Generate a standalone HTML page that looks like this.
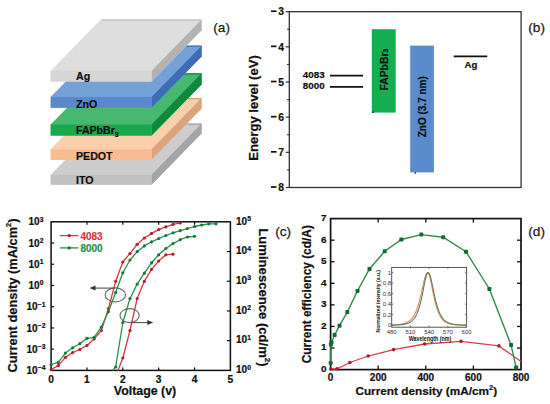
<!DOCTYPE html>
<html><head><meta charset="utf-8"><style>
html,body{margin:0;padding:0;background:#fff;}
svg{display:block;}
</style></head><body>
<svg width="550" height="404" viewBox="0 0 550 404">
<rect width="550" height="404" fill="#fff"/>
<polygon points="50.7,184.8 50.7,174.8 100.7,123.60000000000001 201.6,123.60000000000001 201.6,133.60000000000002 151.6,184.8" fill="#cdcdcd"/>
<polygon points="151.6,174.8 201.6,123.60000000000001 201.6,133.60000000000002 151.6,184.8" fill="#a5a5a5"/>
<rect x="50.7" y="174.8" width="100.89999999999999" height="10.0" fill="#c1c1c1"/>
<line x1="101.5" y1="124.10000000000001" x2="201.29999999999998" y2="124.10000000000001" stroke="#a5a5a5" stroke-width="1.2"/>
<text x="76" y="184.0" font-family="Liberation Sans" font-size="10.6" font-weight="bold" fill="#111" stroke="#111" stroke-width="0.22">ITO</text>
<polygon points="50.7,159.8 50.7,149.3 100.7,98.10000000000001 201.6,98.10000000000001 201.6,108.60000000000001 151.6,159.8" fill="#fbcfab"/>
<polygon points="151.6,149.3 201.6,98.10000000000001 201.6,108.60000000000001 151.6,159.8" fill="#d9a57c"/>
<rect x="50.7" y="149.3" width="100.89999999999999" height="10.5" fill="#f7bd90"/>
<line x1="101.5" y1="98.60000000000001" x2="201.29999999999998" y2="98.60000000000001" stroke="#d9a57c" stroke-width="1.2"/>
<text x="76" y="159.9" font-family="Liberation Sans" font-size="10.6" font-weight="bold" fill="#111" stroke="#111" stroke-width="0.22">PEDOT</text>
<polygon points="50.7,135.6 50.7,124.5 100.7,73.3 201.6,73.3 201.6,84.39999999999999 151.6,135.6" fill="#48b770"/>
<polygon points="151.6,124.5 201.6,73.3 201.6,84.39999999999999 151.6,135.6" fill="#10893a"/>
<rect x="50.7" y="124.5" width="100.89999999999999" height="11.099999999999994" fill="#19a94d"/>
<line x1="101.5" y1="73.8" x2="201.29999999999998" y2="73.8" stroke="#10893a" stroke-width="1.2"/>
<text x="76" y="134.3" font-family="Liberation Sans" font-size="10.6" font-weight="bold" fill="#111" stroke="#111" stroke-width="0.22">FAPbBr<tspan font-size="6.8" dy="2.3">3</tspan></text>
<polygon points="50.7,107.8 50.7,96.9 100.7,45.7 201.6,45.7 201.6,56.599999999999994 151.6,107.8" fill="#74a1d8"/>
<polygon points="151.6,96.9 201.6,45.7 201.6,56.599999999999994 151.6,107.8" fill="#3f6db5"/>
<rect x="50.7" y="96.9" width="100.89999999999999" height="10.899999999999991" fill="#5a88cd"/>
<line x1="101.5" y1="46.2" x2="201.29999999999998" y2="46.2" stroke="#3f6db5" stroke-width="1.2"/>
<text x="76" y="107.7" font-family="Liberation Sans" font-size="10.6" font-weight="bold" fill="#111" stroke="#111" stroke-width="0.22">ZnO</text>
<polygon points="50.7,81.5 50.7,70.7 100.7,19.5 201.6,19.5 201.6,30.299999999999997 151.6,81.5" fill="#dedede"/>
<polygon points="151.6,70.7 201.6,19.5 201.6,30.299999999999997 151.6,81.5" fill="#b3b3b3"/>
<rect x="50.7" y="70.7" width="100.89999999999999" height="10.799999999999997" fill="#d6d6d6"/>
<line x1="101.5" y1="20.0" x2="201.29999999999998" y2="20.0" stroke="#b3b3b3" stroke-width="1.2"/>
<text x="76" y="79.9" font-family="Liberation Sans" font-size="10.6" font-weight="bold" fill="#111" stroke="#111" stroke-width="0.22">Ag</text>
<text x="213.3" y="31.6" font-family="Liberation Sans" font-size="13.6" fill="#1a1a1a" stroke="#1a1a1a" stroke-width="0.25">(a)</text>
<rect x="289.3" y="11.7" width="231.8" height="175.8" fill="none" stroke="#333" stroke-width="1.3"/>
<line x1="285.7" y1="11.7" x2="289.3" y2="11.7" stroke="#333" stroke-width="1.2"/>
<text x="284" y="15.399999999999999" font-family="Liberation Sans" font-size="10.3" font-weight="bold" text-anchor="end" fill="#111" stroke="#111" stroke-width="0.22">3</text>
<rect x="271" y="10.35" width="5.5" height="1.7" fill="#111"/>
<line x1="285.7" y1="46.86" x2="289.3" y2="46.86" stroke="#333" stroke-width="1.2"/>
<text x="284" y="50.56" font-family="Liberation Sans" font-size="10.3" font-weight="bold" text-anchor="end" fill="#111" stroke="#111" stroke-width="0.22">4</text>
<rect x="271" y="45.51" width="5.5" height="1.7" fill="#111"/>
<line x1="285.7" y1="82.02000000000001" x2="289.3" y2="82.02000000000001" stroke="#333" stroke-width="1.2"/>
<text x="284" y="85.72000000000001" font-family="Liberation Sans" font-size="10.3" font-weight="bold" text-anchor="end" fill="#111" stroke="#111" stroke-width="0.22">5</text>
<rect x="271" y="80.67000000000002" width="5.5" height="1.7" fill="#111"/>
<line x1="285.7" y1="117.18000000000002" x2="289.3" y2="117.18000000000002" stroke="#333" stroke-width="1.2"/>
<text x="284" y="120.88000000000002" font-family="Liberation Sans" font-size="10.3" font-weight="bold" text-anchor="end" fill="#111" stroke="#111" stroke-width="0.22">6</text>
<rect x="271" y="115.83000000000003" width="5.5" height="1.7" fill="#111"/>
<line x1="285.7" y1="152.34" x2="289.3" y2="152.34" stroke="#333" stroke-width="1.2"/>
<text x="284" y="156.04" font-family="Liberation Sans" font-size="10.3" font-weight="bold" text-anchor="end" fill="#111" stroke="#111" stroke-width="0.22">7</text>
<rect x="271" y="150.99" width="5.5" height="1.7" fill="#111"/>
<line x1="285.7" y1="187.5" x2="289.3" y2="187.5" stroke="#333" stroke-width="1.2"/>
<text x="284" y="191.2" font-family="Liberation Sans" font-size="10.3" font-weight="bold" text-anchor="end" fill="#111" stroke="#111" stroke-width="0.22">8</text>
<rect x="271" y="186.15" width="5.5" height="1.7" fill="#111"/>
<line x1="287.1" y1="29.28" x2="289.3" y2="29.28" stroke="#333" stroke-width="1.1"/>
<line x1="287.1" y1="64.44000000000001" x2="289.3" y2="64.44000000000001" stroke="#333" stroke-width="1.1"/>
<line x1="287.1" y1="99.60000000000001" x2="289.3" y2="99.60000000000001" stroke="#333" stroke-width="1.1"/>
<line x1="287.1" y1="134.76000000000002" x2="289.3" y2="134.76000000000002" stroke="#333" stroke-width="1.1"/>
<line x1="287.1" y1="169.92" x2="289.3" y2="169.92" stroke="#333" stroke-width="1.1"/>
<text transform="translate(257.5 107.9) rotate(-90)" font-family="Liberation Sans" font-size="13.1" font-weight="bold" text-anchor="middle" fill="#111" stroke="#111" stroke-width="0.22">Energy level (eV)</text>
<rect x="371.8" y="29.2" width="23.9" height="83.39999999999999" fill="#14ad51"/>
<rect x="372.2" y="111.4" width="1.5" height="1.6" fill="#234"/>
<rect x="410.2" y="45.6" width="23.7" height="126.80000000000001" fill="#5a8bcc"/>
<rect x="414.6" y="172.2" width="1.4" height="1.6" fill="#234"/>
<text transform="translate(387.6 90.6) rotate(-90)" font-family="Liberation Sans" font-size="10.4" font-weight="bold" fill="#111" stroke="#111" stroke-width="0.22">FAPbBr<tspan font-size="6.8" dy="0.8">3</tspan></text>
<text transform="translate(425.9 137.3) rotate(-90)" font-family="Liberation Sans" font-size="10.0" font-weight="bold" fill="#111" stroke="#111" stroke-width="0.22">ZnO (3.7 nm)</text>
<line x1="329.9" y1="75.6" x2="363.1" y2="75.6" stroke="#111" stroke-width="1.8"/>
<line x1="329.9" y1="86.9" x2="363.1" y2="86.9" stroke="#111" stroke-width="1.8"/>
<text x="324.6" y="77.6" font-family="Liberation Sans" font-size="9.8" font-weight="bold" text-anchor="end" fill="#111" stroke="#111" stroke-width="0.22">4083</text>
<text x="324.6" y="88.8" font-family="Liberation Sans" font-size="9.8" font-weight="bold" text-anchor="end" fill="#111" stroke="#111" stroke-width="0.22">8000</text>
<line x1="453.7" y1="56.4" x2="487.3" y2="56.4" stroke="#111" stroke-width="1.9"/>
<text x="464.5" y="68.1" font-family="Liberation Sans" font-size="9.6" font-weight="bold" fill="#111" stroke="#111" stroke-width="0.22">Ag</text>
<text x="528.3" y="31.6" font-family="Liberation Sans" font-size="13.6" fill="#1a1a1a" stroke="#1a1a1a" stroke-width="0.25">(b)</text>
<rect x="51.1" y="221.8" width="179.3" height="148.59999999999997" fill="none" stroke="#111" stroke-width="1.5"/>
<line x1="86.96000000000001" y1="370.4" x2="86.96000000000001" y2="367.4" stroke="#111" stroke-width="1.2"/>
<line x1="86.96000000000001" y1="221.8" x2="86.96000000000001" y2="224.8" stroke="#111" stroke-width="1.2"/>
<line x1="122.82" y1="370.4" x2="122.82" y2="367.4" stroke="#111" stroke-width="1.2"/>
<line x1="122.82" y1="221.8" x2="122.82" y2="224.8" stroke="#111" stroke-width="1.2"/>
<line x1="158.68" y1="370.4" x2="158.68" y2="367.4" stroke="#111" stroke-width="1.2"/>
<line x1="158.68" y1="221.8" x2="158.68" y2="224.8" stroke="#111" stroke-width="1.2"/>
<line x1="194.54" y1="370.4" x2="194.54" y2="367.4" stroke="#111" stroke-width="1.2"/>
<line x1="194.54" y1="221.8" x2="194.54" y2="224.8" stroke="#111" stroke-width="1.2"/>
<text x="51.1" y="383.0" font-family="Liberation Sans" font-size="10.2" font-weight="bold" text-anchor="middle" fill="#111" stroke="#111" stroke-width="0.22">0</text>
<text x="86.96000000000001" y="383.0" font-family="Liberation Sans" font-size="10.2" font-weight="bold" text-anchor="middle" fill="#111" stroke="#111" stroke-width="0.22">1</text>
<text x="122.82" y="383.0" font-family="Liberation Sans" font-size="10.2" font-weight="bold" text-anchor="middle" fill="#111" stroke="#111" stroke-width="0.22">2</text>
<text x="158.68" y="383.0" font-family="Liberation Sans" font-size="10.2" font-weight="bold" text-anchor="middle" fill="#111" stroke="#111" stroke-width="0.22">3</text>
<text x="194.54" y="383.0" font-family="Liberation Sans" font-size="10.2" font-weight="bold" text-anchor="middle" fill="#111" stroke="#111" stroke-width="0.22">4</text>
<text x="230.4" y="383.0" font-family="Liberation Sans" font-size="10.2" font-weight="bold" text-anchor="middle" fill="#111" stroke="#111" stroke-width="0.22">5</text>
<text x="36" y="374.0" font-family="Liberation Sans" font-size="10" font-weight="bold" text-anchor="middle" fill="#111" stroke="#111" stroke-width="0.22">10<tspan font-size="6.8" dy="-3.6">−4</tspan></text>
<line x1="51.1" y1="349.1714285714286" x2="54.1" y2="349.1714285714286" stroke="#111" stroke-width="1.2"/>
<text x="36" y="352.7714285714286" font-family="Liberation Sans" font-size="10" font-weight="bold" text-anchor="middle" fill="#111" stroke="#111" stroke-width="0.22">10<tspan font-size="6.8" dy="-3.6">−3</tspan></text>
<line x1="51.1" y1="327.9428571428571" x2="54.1" y2="327.9428571428571" stroke="#111" stroke-width="1.2"/>
<text x="36" y="331.54285714285714" font-family="Liberation Sans" font-size="10" font-weight="bold" text-anchor="middle" fill="#111" stroke="#111" stroke-width="0.22">10<tspan font-size="6.8" dy="-3.6">−2</tspan></text>
<line x1="51.1" y1="306.7142857142857" x2="54.1" y2="306.7142857142857" stroke="#111" stroke-width="1.2"/>
<text x="36" y="310.31428571428575" font-family="Liberation Sans" font-size="10" font-weight="bold" text-anchor="middle" fill="#111" stroke="#111" stroke-width="0.22">10<tspan font-size="6.8" dy="-3.6">−1</tspan></text>
<line x1="51.1" y1="285.48571428571427" x2="54.1" y2="285.48571428571427" stroke="#111" stroke-width="1.2"/>
<text x="36" y="289.0857142857143" font-family="Liberation Sans" font-size="10" font-weight="bold" text-anchor="middle" fill="#111" stroke="#111" stroke-width="0.22">10<tspan font-size="6.8" dy="-3.6">0</tspan></text>
<line x1="51.1" y1="264.25714285714287" x2="54.1" y2="264.25714285714287" stroke="#111" stroke-width="1.2"/>
<text x="36" y="267.8571428571429" font-family="Liberation Sans" font-size="10" font-weight="bold" text-anchor="middle" fill="#111" stroke="#111" stroke-width="0.22">10<tspan font-size="6.8" dy="-3.6">1</tspan></text>
<line x1="51.1" y1="243.02857142857144" x2="54.1" y2="243.02857142857144" stroke="#111" stroke-width="1.2"/>
<text x="36" y="246.62857142857143" font-family="Liberation Sans" font-size="10" font-weight="bold" text-anchor="middle" fill="#111" stroke="#111" stroke-width="0.22">10<tspan font-size="6.8" dy="-3.6">2</tspan></text>
<text x="36" y="225.4" font-family="Liberation Sans" font-size="10" font-weight="bold" text-anchor="middle" fill="#111" stroke="#111" stroke-width="0.22">10<tspan font-size="6.8" dy="-3.6">3</tspan></text>
<text x="236" y="373.09999999999997" font-family="Liberation Sans" font-size="10" font-weight="bold" fill="#111" stroke="#111" stroke-width="0.22">10<tspan font-size="6.8" dy="-3.6">0</tspan></text>
<line x1="230.4" y1="340.68" x2="226.9" y2="340.68" stroke="#111" stroke-width="1.2"/>
<text x="236" y="343.38" font-family="Liberation Sans" font-size="10" font-weight="bold" fill="#111" stroke="#111" stroke-width="0.22">10<tspan font-size="6.8" dy="-3.6">1</tspan></text>
<line x1="230.4" y1="310.96" x2="226.9" y2="310.96" stroke="#111" stroke-width="1.2"/>
<text x="236" y="313.65999999999997" font-family="Liberation Sans" font-size="10" font-weight="bold" fill="#111" stroke="#111" stroke-width="0.22">10<tspan font-size="6.8" dy="-3.6">2</tspan></text>
<line x1="230.4" y1="281.24" x2="226.9" y2="281.24" stroke="#111" stroke-width="1.2"/>
<text x="236" y="283.94" font-family="Liberation Sans" font-size="10" font-weight="bold" fill="#111" stroke="#111" stroke-width="0.22">10<tspan font-size="6.8" dy="-3.6">3</tspan></text>
<line x1="230.4" y1="251.52" x2="226.9" y2="251.52" stroke="#111" stroke-width="1.2"/>
<text x="236" y="254.22" font-family="Liberation Sans" font-size="10" font-weight="bold" fill="#111" stroke="#111" stroke-width="0.22">10<tspan font-size="6.8" dy="-3.6">4</tspan></text>
<text x="236" y="224.5" font-family="Liberation Sans" font-size="10" font-weight="bold" fill="#111" stroke="#111" stroke-width="0.22">10<tspan font-size="6.8" dy="-3.6">5</tspan></text>
<text x="145" y="395.1" font-family="Liberation Sans" font-size="12.4" font-weight="bold" text-anchor="middle" fill="#111" stroke="#111" stroke-width="0.22">Voltage (v)</text>
<text transform="translate(17.3 295.5) rotate(-90)" font-family="Liberation Sans" font-size="12.85" font-weight="bold" text-anchor="middle" fill="#111" stroke="#111" stroke-width="0.22">Current density (mA/cm<tspan font-size="7.4" dy="-6">2</tspan><tspan dy="6">)</tspan></text>
<text transform="translate(259.4 297.5) rotate(90)" font-family="Liberation Sans" font-size="13.1" font-weight="bold" text-anchor="middle" fill="#111" stroke="#111" stroke-width="0.22">Luminescence (cd/m<tspan font-size="8" dy="-5.5">2</tspan><tspan dy="5.5">)</tspan></text>
<polyline points="51.10,369.50 58.27,365.60 65.44,357.40 72.62,352.60 79.79,349.50 86.96,345.40 94.13,338.90 101.30,330.50 108.48,308.50 115.65,281.30 122.82,262.00 129.99,253.50 137.16,244.30 144.34,238.00 151.51,233.40 158.68,229.60 165.85,226.90 173.02,224.40 180.20,222.90" fill="none" stroke="#d83a40" stroke-width="1.3" stroke-linejoin="round"/>
<circle cx="51.10" cy="369.50" r="1.6" fill="#b41f2b"/>
<circle cx="58.27" cy="365.60" r="1.6" fill="#b41f2b"/>
<circle cx="65.44" cy="357.40" r="1.6" fill="#b41f2b"/>
<circle cx="72.62" cy="352.60" r="1.6" fill="#b41f2b"/>
<circle cx="79.79" cy="349.50" r="1.6" fill="#b41f2b"/>
<circle cx="86.96" cy="345.40" r="1.6" fill="#b41f2b"/>
<circle cx="94.13" cy="338.90" r="1.6" fill="#b41f2b"/>
<circle cx="101.30" cy="330.50" r="1.6" fill="#b41f2b"/>
<circle cx="108.48" cy="308.50" r="1.6" fill="#b41f2b"/>
<circle cx="115.65" cy="281.30" r="1.6" fill="#b41f2b"/>
<circle cx="122.82" cy="262.00" r="1.6" fill="#b41f2b"/>
<circle cx="129.99" cy="253.50" r="1.6" fill="#b41f2b"/>
<circle cx="137.16" cy="244.30" r="1.6" fill="#b41f2b"/>
<circle cx="144.34" cy="238.00" r="1.6" fill="#b41f2b"/>
<circle cx="151.51" cy="233.40" r="1.6" fill="#b41f2b"/>
<circle cx="158.68" cy="229.60" r="1.6" fill="#b41f2b"/>
<circle cx="165.85" cy="226.90" r="1.6" fill="#b41f2b"/>
<circle cx="173.02" cy="224.40" r="1.6" fill="#b41f2b"/>
<circle cx="180.20" cy="222.90" r="1.6" fill="#b41f2b"/>
<polyline points="51.10,364.50 58.27,362.40 65.44,353.10 72.62,347.80 79.79,343.70 86.96,338.30 94.13,337.40 101.30,327.00 108.48,311.60 115.65,292.50 122.82,272.80 129.99,260.00 137.16,251.60 144.34,245.90 151.51,241.80 158.68,238.60 165.85,235.50 173.02,232.80 180.20,230.70 187.37,228.60 194.54,226.50 201.71,225.00 208.88,223.80 216.06,223.80" fill="none" stroke="#2a9149" stroke-width="1.3" stroke-linejoin="round"/>
<circle cx="51.10" cy="364.50" r="1.6" fill="#137a3a"/>
<circle cx="58.27" cy="362.40" r="1.6" fill="#137a3a"/>
<circle cx="65.44" cy="353.10" r="1.6" fill="#137a3a"/>
<circle cx="72.62" cy="347.80" r="1.6" fill="#137a3a"/>
<circle cx="79.79" cy="343.70" r="1.6" fill="#137a3a"/>
<circle cx="86.96" cy="338.30" r="1.6" fill="#137a3a"/>
<circle cx="94.13" cy="337.40" r="1.6" fill="#137a3a"/>
<circle cx="101.30" cy="327.00" r="1.6" fill="#137a3a"/>
<circle cx="108.48" cy="311.60" r="1.6" fill="#137a3a"/>
<circle cx="115.65" cy="292.50" r="1.6" fill="#137a3a"/>
<circle cx="122.82" cy="272.80" r="1.6" fill="#137a3a"/>
<circle cx="129.99" cy="260.00" r="1.6" fill="#137a3a"/>
<circle cx="137.16" cy="251.60" r="1.6" fill="#137a3a"/>
<circle cx="144.34" cy="245.90" r="1.6" fill="#137a3a"/>
<circle cx="151.51" cy="241.80" r="1.6" fill="#137a3a"/>
<circle cx="158.68" cy="238.60" r="1.6" fill="#137a3a"/>
<circle cx="165.85" cy="235.50" r="1.6" fill="#137a3a"/>
<circle cx="173.02" cy="232.80" r="1.6" fill="#137a3a"/>
<circle cx="180.20" cy="230.70" r="1.6" fill="#137a3a"/>
<circle cx="187.37" cy="228.60" r="1.6" fill="#137a3a"/>
<circle cx="194.54" cy="226.50" r="1.6" fill="#137a3a"/>
<circle cx="201.71" cy="225.00" r="1.6" fill="#137a3a"/>
<circle cx="208.88" cy="223.80" r="1.6" fill="#137a3a"/>
<circle cx="216.06" cy="223.80" r="1.6" fill="#137a3a"/>
<polyline points="112.70,370.40 115.65,367.00 122.82,322.50 129.99,298.50 137.16,284.10 144.34,273.20 151.51,262.80 158.68,254.80 165.85,248.50 173.02,243.60 180.20,239.70 187.37,237.00 194.54,236.30" fill="none" stroke="#2a9149" stroke-width="1.3" stroke-linejoin="round"/>
<circle cx="115.65" cy="367.00" r="1.6" fill="#137a3a"/>
<circle cx="122.82" cy="322.50" r="1.6" fill="#137a3a"/>
<circle cx="129.99" cy="298.50" r="1.6" fill="#137a3a"/>
<circle cx="137.16" cy="284.10" r="1.6" fill="#137a3a"/>
<circle cx="144.34" cy="273.20" r="1.6" fill="#137a3a"/>
<circle cx="151.51" cy="262.80" r="1.6" fill="#137a3a"/>
<circle cx="158.68" cy="254.80" r="1.6" fill="#137a3a"/>
<circle cx="165.85" cy="248.50" r="1.6" fill="#137a3a"/>
<circle cx="173.02" cy="243.60" r="1.6" fill="#137a3a"/>
<circle cx="180.20" cy="239.70" r="1.6" fill="#137a3a"/>
<circle cx="187.37" cy="237.00" r="1.6" fill="#137a3a"/>
<circle cx="194.54" cy="236.30" r="1.6" fill="#137a3a"/>
<polyline points="117.90,370.40 122.82,358.00 129.99,330.50 137.16,298.50 144.34,281.30 151.51,269.40 158.68,261.00 165.85,254.80 173.02,254.20" fill="none" stroke="#d83a40" stroke-width="1.3" stroke-linejoin="round"/>
<circle cx="122.82" cy="358.00" r="1.6" fill="#b41f2b"/>
<circle cx="129.99" cy="330.50" r="1.6" fill="#b41f2b"/>
<circle cx="137.16" cy="298.50" r="1.6" fill="#b41f2b"/>
<circle cx="144.34" cy="281.30" r="1.6" fill="#b41f2b"/>
<circle cx="151.51" cy="269.40" r="1.6" fill="#b41f2b"/>
<circle cx="158.68" cy="261.00" r="1.6" fill="#b41f2b"/>
<circle cx="165.85" cy="254.80" r="1.6" fill="#b41f2b"/>
<circle cx="173.02" cy="254.20" r="1.6" fill="#b41f2b"/>
<line x1="59.9" y1="235.6" x2="78.4" y2="235.6" stroke="#d83a40" stroke-width="1.3"/><circle cx="69.2" cy="235.6" r="1.7" fill="#b41f2b"/>
<line x1="59.9" y1="247.9" x2="78.4" y2="247.9" stroke="#2a9149" stroke-width="1.3"/><circle cx="69.2" cy="247.9" r="1.7" fill="#137a3a"/>
<text x="80.4" y="239.6" font-family="Liberation Sans" font-size="10" font-weight="bold" fill="#d83a40" stroke="#d83a40" stroke-width="0.22">4083</text>
<text x="80.4" y="251.7" font-family="Liberation Sans" font-size="10" font-weight="bold" fill="#2a9149" stroke="#2a9149" stroke-width="0.22">8000</text>
<ellipse cx="115.3" cy="294.9" rx="10.2" ry="7.0" fill="none" stroke="#666" stroke-width="1.1"/>
<ellipse cx="129.6" cy="315.6" rx="9.6" ry="7.0" fill="none" stroke="#666" stroke-width="1.1"/>
<line x1="114.5" y1="288.1" x2="93" y2="288.1" stroke="#555" stroke-width="1.1"/><polygon points="89.6,288.1 95.5,285.6 95.5,290.6" fill="#333"/>
<line x1="130.4" y1="322.6" x2="149.5" y2="322.6" stroke="#555" stroke-width="1.1"/><polygon points="153.2,322.6 147.3,320.1 147.3,325.1" fill="#333"/>
<rect x="330.6" y="218.6" width="190.39999999999998" height="151.00000000000003" fill="none" stroke="#111" stroke-width="1.7"/>
<text x="326.4" y="372.0" font-family="Liberation Sans" font-size="9.9" font-weight="bold" text-anchor="end" fill="#111" stroke="#111" stroke-width="0.22">0</text>
<line x1="330.6" y1="348.02857142857147" x2="334.6" y2="348.02857142857147" stroke="#111" stroke-width="1.3"/>
<line x1="521.0" y1="348.02857142857147" x2="517.0" y2="348.02857142857147" stroke="#111" stroke-width="1.3"/>
<text x="326.4" y="350.42857142857144" font-family="Liberation Sans" font-size="9.9" font-weight="bold" text-anchor="end" fill="#111" stroke="#111" stroke-width="0.22">1</text>
<line x1="330.6" y1="326.45714285714286" x2="334.6" y2="326.45714285714286" stroke="#111" stroke-width="1.3"/>
<line x1="521.0" y1="326.45714285714286" x2="517.0" y2="326.45714285714286" stroke="#111" stroke-width="1.3"/>
<text x="326.4" y="328.85714285714283" font-family="Liberation Sans" font-size="9.9" font-weight="bold" text-anchor="end" fill="#111" stroke="#111" stroke-width="0.22">2</text>
<line x1="330.6" y1="304.8857142857143" x2="334.6" y2="304.8857142857143" stroke="#111" stroke-width="1.3"/>
<line x1="521.0" y1="304.8857142857143" x2="517.0" y2="304.8857142857143" stroke="#111" stroke-width="1.3"/>
<text x="326.4" y="307.2857142857143" font-family="Liberation Sans" font-size="9.9" font-weight="bold" text-anchor="end" fill="#111" stroke="#111" stroke-width="0.22">3</text>
<line x1="330.6" y1="283.3142857142857" x2="334.6" y2="283.3142857142857" stroke="#111" stroke-width="1.3"/>
<line x1="521.0" y1="283.3142857142857" x2="517.0" y2="283.3142857142857" stroke="#111" stroke-width="1.3"/>
<text x="326.4" y="285.71428571428567" font-family="Liberation Sans" font-size="9.9" font-weight="bold" text-anchor="end" fill="#111" stroke="#111" stroke-width="0.22">4</text>
<line x1="330.6" y1="261.74285714285713" x2="334.6" y2="261.74285714285713" stroke="#111" stroke-width="1.3"/>
<line x1="521.0" y1="261.74285714285713" x2="517.0" y2="261.74285714285713" stroke="#111" stroke-width="1.3"/>
<text x="326.4" y="264.1428571428571" font-family="Liberation Sans" font-size="9.9" font-weight="bold" text-anchor="end" fill="#111" stroke="#111" stroke-width="0.22">5</text>
<line x1="330.6" y1="240.17142857142855" x2="334.6" y2="240.17142857142855" stroke="#111" stroke-width="1.3"/>
<line x1="521.0" y1="240.17142857142855" x2="517.0" y2="240.17142857142855" stroke="#111" stroke-width="1.3"/>
<text x="326.4" y="242.57142857142856" font-family="Liberation Sans" font-size="9.9" font-weight="bold" text-anchor="end" fill="#111" stroke="#111" stroke-width="0.22">6</text>
<text x="326.4" y="221.0" font-family="Liberation Sans" font-size="9.9" font-weight="bold" text-anchor="end" fill="#111" stroke="#111" stroke-width="0.22">7</text>
<text x="330.6" y="381.0" font-family="Liberation Sans" font-size="10" font-weight="bold" text-anchor="middle" fill="#111" stroke="#111" stroke-width="0.22">0</text>
<line x1="378.20000000000005" y1="369.6" x2="378.20000000000005" y2="365.6" stroke="#111" stroke-width="1.3"/>
<line x1="378.20000000000005" y1="218.6" x2="378.20000000000005" y2="222.6" stroke="#111" stroke-width="1.3"/>
<text x="378.20000000000005" y="381.0" font-family="Liberation Sans" font-size="10" font-weight="bold" text-anchor="middle" fill="#111" stroke="#111" stroke-width="0.22">200</text>
<line x1="425.8" y1="369.6" x2="425.8" y2="365.6" stroke="#111" stroke-width="1.3"/>
<line x1="425.8" y1="218.6" x2="425.8" y2="222.6" stroke="#111" stroke-width="1.3"/>
<text x="425.8" y="381.0" font-family="Liberation Sans" font-size="10" font-weight="bold" text-anchor="middle" fill="#111" stroke="#111" stroke-width="0.22">400</text>
<line x1="473.4" y1="369.6" x2="473.4" y2="365.6" stroke="#111" stroke-width="1.3"/>
<line x1="473.4" y1="218.6" x2="473.4" y2="222.6" stroke="#111" stroke-width="1.3"/>
<text x="473.4" y="381.0" font-family="Liberation Sans" font-size="10" font-weight="bold" text-anchor="middle" fill="#111" stroke="#111" stroke-width="0.22">600</text>
<text x="521.0" y="381.0" font-family="Liberation Sans" font-size="10" font-weight="bold" text-anchor="middle" fill="#111" stroke="#111" stroke-width="0.22">800</text>
<text x="426.3" y="395.1" font-family="Liberation Sans" font-size="11.8" font-weight="bold" text-anchor="middle" fill="#111" stroke="#111" stroke-width="0.22">Current density (mA/cm<tspan font-size="7.5" dy="-5.3">2</tspan><tspan dy="5.3">)</tspan></text>
<text transform="translate(310.7 294.2) rotate(-90)" font-family="Liberation Sans" font-size="11.9" font-weight="bold" text-anchor="middle" fill="#111" stroke="#111" stroke-width="0.22">Current efficiency (cd/A)</text>
<text x="275.3" y="235.8" font-family="Liberation Sans" font-size="13.6" fill="#1a1a1a" stroke="#1a1a1a" stroke-width="0.25">(c)</text>
<text x="528.3" y="235.8" font-family="Liberation Sans" font-size="13.6" fill="#1a1a1a" stroke="#1a1a1a" stroke-width="0.25">(d)</text>
<polyline points="330.9,369.0 337.0,368.8 349.9,362.5 368.2,356.0 393.6,349.6 424.7,344.0 461.0,341.3 498.9,345.9 521,361.5" fill="none" stroke="#d44545" stroke-width="1.3"/>
<circle cx="330.9" cy="369.0" r="1.8" fill="#b01c28"/>
<circle cx="337.0" cy="368.8" r="1.8" fill="#b01c28"/>
<circle cx="349.9" cy="362.5" r="1.8" fill="#b01c28"/>
<circle cx="368.2" cy="356.0" r="1.8" fill="#b01c28"/>
<circle cx="393.6" cy="349.6" r="1.8" fill="#b01c28"/>
<circle cx="424.7" cy="344.0" r="1.8" fill="#b01c28"/>
<circle cx="461.0" cy="341.3" r="1.8" fill="#b01c28"/>
<circle cx="498.9" cy="345.9" r="1.8" fill="#b01c28"/>
<polyline points="330.7,362.9 330.9,344.5 331.5,342.3 334.6,335.0 339.5,325.7 347.3,312.1 357.5,290.9 369.5,269.0 384.7,251.3 401.4,239.5 421.3,234.6 443.2,237.2 466.0,251.7 489.4,289.0 511.1,345.1 516.1,367.4" fill="none" stroke="#348a50" stroke-width="1.4"/>
<rect x="328.7" y="360.9" width="4" height="4" rx="0.8" fill="#0e6b34"/>
<rect x="328.9" y="342.5" width="4" height="4" rx="0.8" fill="#0e6b34"/>
<rect x="329.5" y="340.3" width="4" height="4" rx="0.8" fill="#0e6b34"/>
<rect x="332.6" y="333.0" width="4" height="4" rx="0.8" fill="#0e6b34"/>
<rect x="337.5" y="323.7" width="4" height="4" rx="0.8" fill="#0e6b34"/>
<rect x="345.3" y="310.1" width="4" height="4" rx="0.8" fill="#0e6b34"/>
<rect x="355.5" y="288.9" width="4" height="4" rx="0.8" fill="#0e6b34"/>
<rect x="367.5" y="267.0" width="4" height="4" rx="0.8" fill="#0e6b34"/>
<rect x="382.7" y="249.3" width="4" height="4" rx="0.8" fill="#0e6b34"/>
<rect x="399.4" y="237.5" width="4" height="4" rx="0.8" fill="#0e6b34"/>
<rect x="419.3" y="232.6" width="4" height="4" rx="0.8" fill="#0e6b34"/>
<rect x="441.2" y="235.2" width="4" height="4" rx="0.8" fill="#0e6b34"/>
<rect x="464.0" y="249.7" width="4" height="4" rx="0.8" fill="#0e6b34"/>
<rect x="487.4" y="287.0" width="4" height="4" rx="0.8" fill="#0e6b34"/>
<rect x="509.1" y="343.1" width="4" height="4" rx="0.8" fill="#0e6b34"/>
<rect x="514.1" y="365.4" width="4" height="4" rx="0.8" fill="#0e6b34"/>
<rect x="391.7" y="267.4" width="74.90000000000003" height="59.80000000000001" fill="#fff" stroke="#444" stroke-width="0.9"/>
<line x1="410.425" y1="327.2" x2="410.425" y2="325.7" stroke="#444" stroke-width="0.7"/>
<line x1="410.425" y1="267.4" x2="410.425" y2="268.9" stroke="#444" stroke-width="0.7"/>
<line x1="429.15" y1="327.2" x2="429.15" y2="325.7" stroke="#444" stroke-width="0.7"/>
<line x1="429.15" y1="267.4" x2="429.15" y2="268.9" stroke="#444" stroke-width="0.7"/>
<line x1="447.875" y1="327.2" x2="447.875" y2="325.7" stroke="#444" stroke-width="0.7"/>
<line x1="447.875" y1="267.4" x2="447.875" y2="268.9" stroke="#444" stroke-width="0.7"/>
<text x="391.7" y="333.5" font-family="Liberation Sans" font-size="6" text-anchor="middle" fill="#333">480</text>
<text x="410.425" y="333.5" font-family="Liberation Sans" font-size="6" text-anchor="middle" fill="#333">510</text>
<text x="429.15" y="333.5" font-family="Liberation Sans" font-size="6" text-anchor="middle" fill="#333">540</text>
<text x="447.875" y="333.5" font-family="Liberation Sans" font-size="6" text-anchor="middle" fill="#333">570</text>
<text x="466.6" y="333.5" font-family="Liberation Sans" font-size="6" text-anchor="middle" fill="#333">600</text>
<line x1="391.7" y1="325.2" x2="393.2" y2="325.2" stroke="#444" stroke-width="0.7"/>
<line x1="466.6" y1="325.2" x2="465.1" y2="325.2" stroke="#444" stroke-width="0.7"/>
<text x="391.2" y="327.3" font-family="Liberation Sans" font-size="6" text-anchor="end" fill="#333">0</text>
<line x1="391.7" y1="314.68" x2="393.2" y2="314.68" stroke="#444" stroke-width="0.7"/>
<line x1="466.6" y1="314.68" x2="465.1" y2="314.68" stroke="#444" stroke-width="0.7"/>
<text x="391.2" y="316.78000000000003" font-family="Liberation Sans" font-size="6" text-anchor="end" fill="#333">0.2</text>
<line x1="391.7" y1="304.16" x2="393.2" y2="304.16" stroke="#444" stroke-width="0.7"/>
<line x1="466.6" y1="304.16" x2="465.1" y2="304.16" stroke="#444" stroke-width="0.7"/>
<text x="391.2" y="306.26000000000005" font-family="Liberation Sans" font-size="6" text-anchor="end" fill="#333">0.4</text>
<line x1="391.7" y1="293.64" x2="393.2" y2="293.64" stroke="#444" stroke-width="0.7"/>
<line x1="466.6" y1="293.64" x2="465.1" y2="293.64" stroke="#444" stroke-width="0.7"/>
<text x="391.2" y="295.74" font-family="Liberation Sans" font-size="6" text-anchor="end" fill="#333">0.6</text>
<line x1="391.7" y1="283.12" x2="393.2" y2="283.12" stroke="#444" stroke-width="0.7"/>
<line x1="466.6" y1="283.12" x2="465.1" y2="283.12" stroke="#444" stroke-width="0.7"/>
<text x="391.2" y="285.22" font-family="Liberation Sans" font-size="6" text-anchor="end" fill="#333">0.8</text>
<line x1="391.7" y1="272.6" x2="393.2" y2="272.6" stroke="#444" stroke-width="0.7"/>
<line x1="466.6" y1="272.6" x2="465.1" y2="272.6" stroke="#444" stroke-width="0.7"/>
<text x="391.2" y="274.70000000000005" font-family="Liberation Sans" font-size="6" text-anchor="end" fill="#333">1</text>
<text x="430" y="341.3" font-family="Liberation Sans" font-size="6.8" font-weight="bold" text-anchor="middle" fill="#111" textLength="42.6" lengthAdjust="spacingAndGlyphs">Wavelength (nm)</text>
<text transform="translate(380.3 301.2) rotate(-90)" font-family="Liberation Sans" font-size="5.2" font-weight="bold" text-anchor="middle" fill="#111" textLength="62.5" lengthAdjust="spacingAndGlyphs">Normalized intensity (a.u.)</text>
<polyline points="391.70,325.01 392.01,325.00 392.32,324.99 392.64,324.97 392.95,324.96 393.26,324.95 393.57,324.93 393.88,324.92 394.20,324.90 394.51,324.88 394.82,324.87 395.13,324.85 395.44,324.83 395.76,324.81 396.07,324.78 396.38,324.76 396.69,324.74 397.01,324.71 397.32,324.68 397.63,324.65 397.94,324.62 398.25,324.59 398.57,324.55 398.88,324.52 399.19,324.48 399.50,324.44 399.81,324.39 400.13,324.35 400.44,324.30 400.75,324.25 401.06,324.20 401.37,324.14 401.69,324.08 402.00,324.01 402.31,323.95 402.62,323.88 402.94,323.80 403.25,323.72 403.56,323.64 403.87,323.55 404.18,323.46 404.50,323.36 404.81,323.25 405.12,323.14 405.43,323.03 405.74,322.90 406.06,322.77 406.37,322.63 406.68,322.49 406.99,322.33 407.30,322.17 407.62,322.00 407.93,321.82 408.24,321.63 408.55,321.43 408.86,321.21 409.18,320.99 409.49,320.75 409.80,320.50 410.11,320.23 410.43,319.95 410.74,319.66 411.05,319.35 411.36,319.02 411.67,318.67 411.99,318.30 412.30,317.91 412.61,317.51 412.92,317.08 413.23,316.62 413.55,316.14 413.86,315.64 414.17,315.11 414.48,314.55 414.79,313.96 415.11,313.34 415.42,312.69 415.73,312.01 416.04,311.29 416.35,310.54 416.67,309.75 416.98,308.92 417.29,308.05 417.60,307.14 417.92,306.19 418.23,305.20 418.54,304.17 418.85,303.10 419.16,301.98 419.48,300.82 419.79,299.63 420.10,298.39 420.41,297.11 420.72,295.81 421.04,294.47 421.35,293.10 421.66,291.71 421.97,290.30 422.28,288.88 422.60,287.46 422.91,286.04 423.22,284.64 423.53,283.26 423.84,281.91 424.16,280.61 424.47,279.37 424.78,278.19 425.09,277.10 425.40,276.10 425.72,275.21 426.03,274.44 426.34,273.79 426.65,273.27 426.97,272.90 427.28,272.68 427.59,272.60 427.90,272.69 428.21,272.97 428.53,273.44 428.84,274.07 429.15,274.87 429.46,275.82 429.77,276.91 430.09,278.11 430.40,279.42 430.71,280.82 431.02,282.28 431.33,283.80 431.65,285.35 431.96,286.93 432.27,288.52 432.58,290.10 432.89,291.68 433.21,293.23 433.52,294.75 433.83,296.24 434.14,297.68 434.46,299.08 434.77,300.44 435.08,301.74 435.39,302.99 435.70,304.19 436.02,305.34 436.33,306.44 436.64,307.48 436.95,308.48 437.26,309.42 437.58,310.32 437.89,311.17 438.20,311.98 438.51,312.74 438.82,313.46 439.14,314.14 439.45,314.79 439.76,315.40 440.07,315.97 440.38,316.51 440.70,317.02 441.01,317.51 441.32,317.96 441.63,318.39 441.95,318.79 442.26,319.17 442.57,319.53 442.88,319.87 443.19,320.18 443.51,320.48 443.82,320.76 444.13,321.03 444.44,321.27 444.75,321.51 445.07,321.73 445.38,321.93 445.69,322.13 446.00,322.31 446.31,322.49 446.63,322.65 446.94,322.80 447.25,322.94 447.56,323.08 447.88,323.20 448.19,323.32 448.50,323.44 448.81,323.54 449.12,323.64 449.44,323.73 449.75,323.82 450.06,323.90 450.37,323.98 450.68,324.05 451.00,324.12 451.31,324.19 451.62,324.25 451.93,324.30 452.24,324.36 452.56,324.41 452.87,324.46 453.18,324.50 453.49,324.54 453.80,324.58 454.12,324.62 454.43,324.65 454.74,324.69 455.05,324.72 455.37,324.75 455.68,324.77 455.99,324.80 456.30,324.82 456.61,324.84 456.93,324.87 457.24,324.89 457.55,324.90 457.86,324.92 458.17,324.94 458.49,324.95 458.80,324.97 459.11,324.98 459.42,325.00 459.73,325.01 460.05,325.02 460.36,325.03 460.67,325.04 460.98,325.05 461.29,325.06 461.61,325.07 461.92,325.08 462.23,325.08 462.54,325.09 462.86,325.10 463.17,325.10 463.48,325.11 463.79,325.11 464.10,325.12 464.42,325.12 464.73,325.13 465.04,325.13 465.35,325.14 465.66,325.14 465.98,325.14 466.29,325.15 466.60,325.15" fill="none" stroke="#e3826a" stroke-width="1.1"/>
<polyline points="391.70,325.12 392.01,325.12 392.32,325.11 392.64,325.11 392.95,325.10 393.26,325.10 393.57,325.09 393.88,325.08 394.20,325.08 394.51,325.07 394.82,325.06 395.13,325.05 395.44,325.04 395.76,325.03 396.07,325.02 396.38,325.01 396.69,325.00 397.01,324.98 397.32,324.97 397.63,324.95 397.94,324.94 398.25,324.92 398.57,324.90 398.88,324.88 399.19,324.86 399.50,324.84 399.81,324.82 400.13,324.79 400.44,324.77 400.75,324.74 401.06,324.71 401.37,324.68 401.69,324.65 402.00,324.61 402.31,324.57 402.62,324.53 402.94,324.49 403.25,324.44 403.56,324.39 403.87,324.34 404.18,324.29 404.50,324.23 404.81,324.17 405.12,324.10 405.43,324.03 405.74,323.95 406.06,323.87 406.37,323.79 406.68,323.70 406.99,323.60 407.30,323.50 407.62,323.39 407.93,323.27 408.24,323.15 408.55,323.02 408.86,322.88 409.18,322.73 409.49,322.57 409.80,322.40 410.11,322.22 410.43,322.03 410.74,321.82 411.05,321.61 411.36,321.38 411.67,321.13 411.99,320.87 412.30,320.59 412.61,320.30 412.92,319.99 413.23,319.65 413.55,319.30 413.86,318.92 414.17,318.52 414.48,318.10 414.79,317.65 415.11,317.17 415.42,316.66 415.73,316.12 416.04,315.55 416.35,314.94 416.67,314.30 416.98,313.62 417.29,312.89 417.60,312.13 417.92,311.32 418.23,310.47 418.54,309.57 418.85,308.62 419.16,307.62 419.48,306.57 419.79,305.47 420.10,304.32 420.41,303.11 420.72,301.84 421.04,300.53 421.35,299.16 421.66,297.75 421.97,296.28 422.28,294.78 422.60,293.24 422.91,291.67 423.22,290.08 423.53,288.48 423.84,286.87 424.16,285.28 424.47,283.71 424.78,282.17 425.09,280.70 425.40,279.29 425.72,277.98 426.03,276.77 426.34,275.69 426.65,274.75 426.97,273.96 427.28,273.35 427.59,272.91 427.90,272.66 428.21,272.60 428.53,272.72 428.84,273.01 429.15,273.47 429.46,274.08 429.77,274.85 430.09,275.75 430.40,276.77 430.71,277.91 431.02,279.14 431.33,280.46 431.65,281.84 431.96,283.28 432.27,284.75 432.58,286.25 432.89,287.76 433.21,289.28 433.52,290.79 433.83,292.29 434.14,293.76 434.46,295.20 434.77,296.61 435.08,297.98 435.39,299.32 435.70,300.60 436.02,301.84 436.33,303.04 436.64,304.18 436.95,305.28 437.26,306.33 437.58,307.34 437.89,308.30 438.20,309.21 438.51,310.08 438.82,310.90 439.14,311.69 439.45,312.43 439.76,313.14 440.07,313.81 440.38,314.44 440.70,315.04 441.01,315.61 441.32,316.15 441.63,316.66 441.95,317.14 442.26,317.60 442.57,318.03 442.88,318.43 443.19,318.81 443.51,319.18 443.82,319.52 444.13,319.84 444.44,320.15 444.75,320.43 445.07,320.70 445.38,320.96 445.69,321.20 446.00,321.43 446.31,321.64 446.63,321.85 446.94,322.04 447.25,322.22 447.56,322.39 447.88,322.55 448.19,322.70 448.50,322.84 448.81,322.98 449.12,323.11 449.44,323.22 449.75,323.34 450.06,323.44 450.37,323.54 450.68,323.64 451.00,323.73 451.31,323.81 451.62,323.89 451.93,323.97 452.24,324.04 452.56,324.10 452.87,324.17 453.18,324.23 453.49,324.28 453.80,324.33 454.12,324.38 454.43,324.43 454.74,324.47 455.05,324.52 455.37,324.55 455.68,324.59 455.99,324.63 456.30,324.66 456.61,324.69 456.93,324.72 457.24,324.75 457.55,324.77 457.86,324.80 458.17,324.82 458.49,324.84 458.80,324.86 459.11,324.88 459.42,324.90 459.73,324.92 460.05,324.93 460.36,324.95 460.67,324.96 460.98,324.98 461.29,324.99 461.61,325.00 461.92,325.01 462.23,325.02 462.54,325.03 462.86,325.04 463.17,325.05 463.48,325.06 463.79,325.07 464.10,325.08 464.42,325.08 464.73,325.09 465.04,325.10 465.35,325.10 465.66,325.11 465.98,325.11 466.29,325.12 466.60,325.12" fill="none" stroke="#5a8050" stroke-width="1.1"/>
</svg>
</body></html>
